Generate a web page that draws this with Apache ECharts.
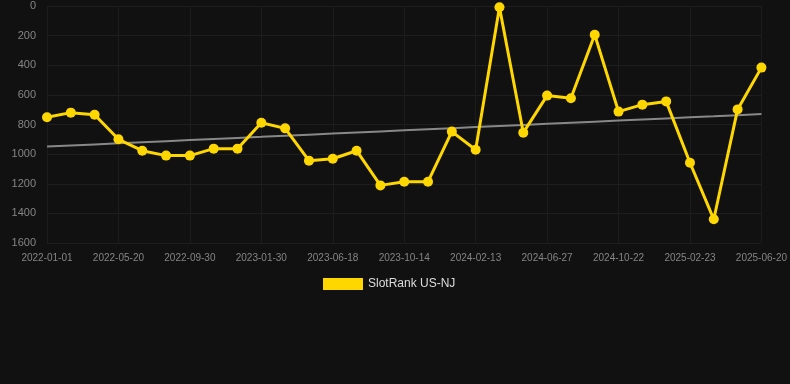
<!DOCTYPE html>
<html>
<head>
<meta charset="utf-8">
<script src="https://cdn.jsdelivr.net/npm/echarts@6/dist/echarts.min.js"></script>
<style>
html,body{margin:0;padding:0;background:#111111;}
#chart{width:790px;height:384px;}
</style>
</head>
<body>
<div id="chart"></div>
<script>
const categories = [
  "2022-01-01","2022-02-16","2022-04-03","2022-05-20","2022-07-03","2022-08-16",
  "2022-09-30","2022-11-10","2022-12-20","2023-01-30","2023-03-16","2023-05-02",
  "2023-06-18","2023-07-27","2023-09-05","2023-10-14","2023-11-23","2024-01-03",
  "2024-02-13","2024-03-28","2024-05-13","2024-06-27","2024-08-09","2024-09-15",
  "2024-10-22","2024-12-03","2025-01-13","2025-02-23","2025-04-03","2025-05-12",
  "2025-06-20"
];
const rankValues = [
  751, 720, 734, 900, 977, 1010, 1010, 963, 963, 788, 826,
  1044, 1031, 977, 1211, 1186, 1186, 848, 970, 8, 855,
  605, 623, 194, 713, 666, 644, 1058, 1440, 698, 416
];
const seriesName = "SlotRank US-NJ";
const yTicks = { min: 0, max: 1600, interval: 200 };

// linear regression trend from the data
const n = rankValues.length;
let sx = 0, sy = 0, sxy = 0, sxx = 0;
rankValues.forEach((v, i) => { sx += i; sy += v; sxy += i * v; sxx += i * i; });
const slope = (n * sxy - sx * sy) / (n * sxx - sx * sx);
const intercept = (sy - slope * sx) / n;
const trend = rankValues.map((v, i) => +(intercept + slope * i).toFixed(1));

const chart = echarts.init(document.getElementById('chart'));
chart.setOption({
  backgroundColor: '#111111',
  animation: false,
  grid: { left: 47, right: 28, top: 6, bottom: 141, containLabel: false },
  legend: {
    data: [seriesName],
    top: 273,
    left: 318,
    itemWidth: 40,
    itemHeight: 12,
    icon: 'rect',
    textStyle: { color: '#dddddd', fontSize: 12, fontFamily: 'Liberation Sans, Arial, sans-serif' }
  },
  xAxis: {
    type: 'category',
    data: categories,
    boundaryGap: false,
    axisLine: { show: false },
    axisTick: { show: false },
    axisLabel: { interval: 2, color: '#858585', fontSize: 10, margin: 10, fontFamily: 'Liberation Sans, Arial, sans-serif' },
    splitLine: { show: true, interval: 2, lineStyle: { color: '#1c1c1c', width: 1 } }
  },
  yAxis: {
    type: 'value',
    inverse: true,
    min: yTicks.min,
    max: yTicks.max,
    interval: yTicks.interval,
    axisLine: { show: false },
    axisTick: { show: false },
    axisLabel: { color: '#858585', fontSize: 11, margin: 11, formatter: v => String(v), fontFamily: 'Liberation Sans, Arial, sans-serif' },
    splitLine: { show: true, lineStyle: { color: '#1e1e1e', width: 1 } }
  },
  series: [
    {
      name: seriesName,
      type: 'line',
      data: rankValues,
      color: '#FFD700',
      lineStyle: { color: '#FFD700', width: 3 },
      itemStyle: { color: '#FFD700' },
      symbol: 'circle',
      symbolSize: 10,
      z: 3
    },
    {
      name: 'trend',
      type: 'line',
      data: trend,
      symbol: 'none',
      lineStyle: { color: '#888888', width: 2 },
      z: 2,
      silent: true
    }
  ]
});
</script>
</body>
</html>
